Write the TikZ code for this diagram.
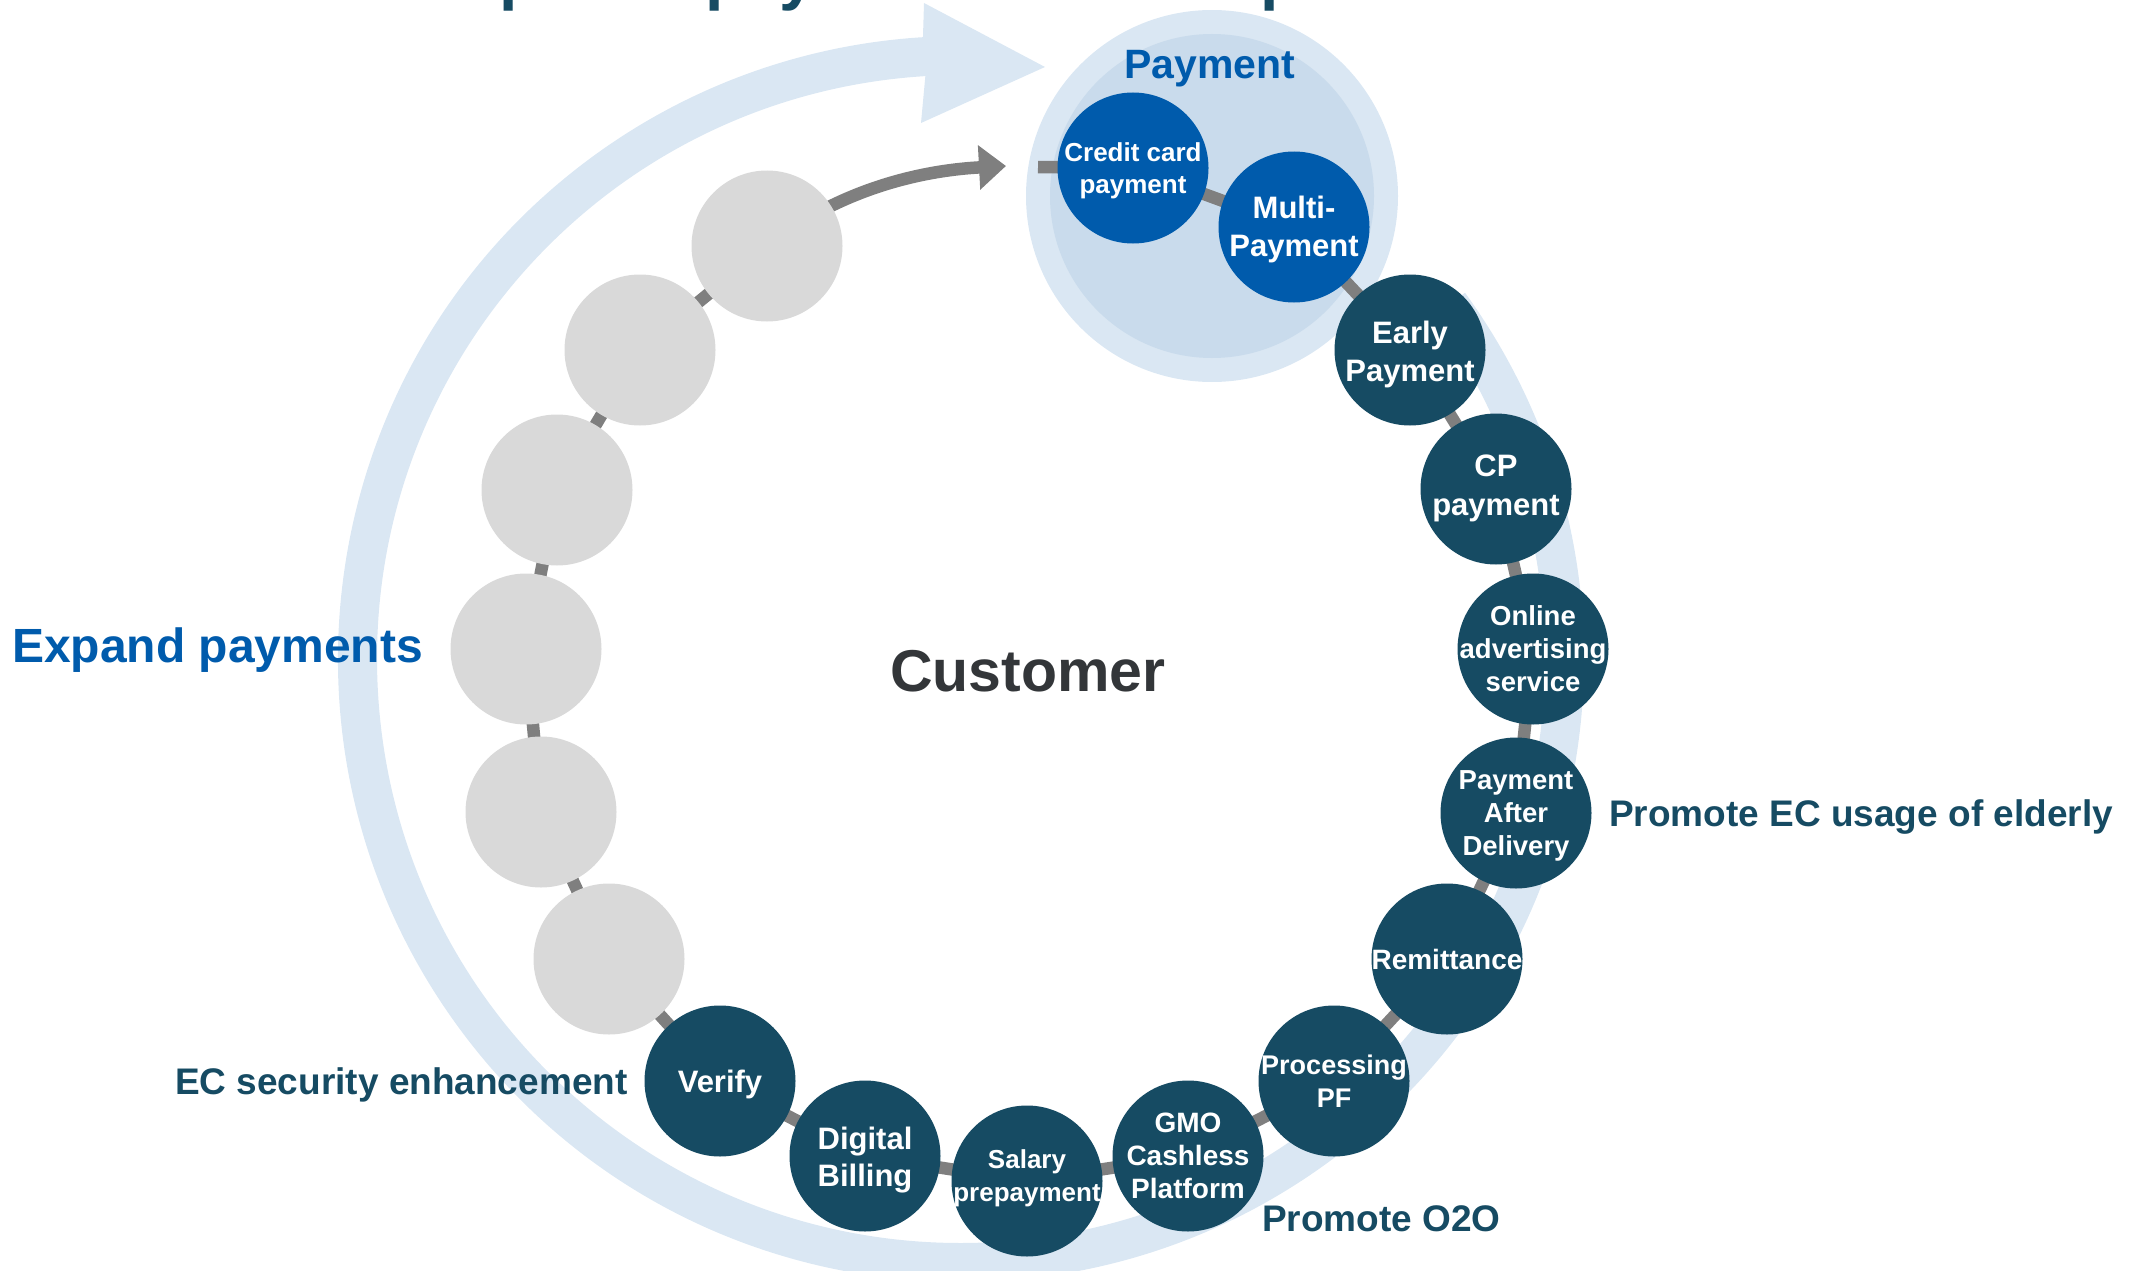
\documentclass[tikz,border=0pt]{standalone}
\usepackage{fontspec}
\setmainfont{Liberation Sans}
\usetikzlibrary{arrows.meta,backgrounds}
\definecolor{nodeteal}{HTML}{164B63}
\definecolor{nodeblue}{HTML}{005BAC}
\definecolor{greyc}{HTML}{D9D9D9}
\definecolor{chainc}{HTML}{7F7F7F}
\definecolor{bandc}{HTML}{DAE7F3}
\definecolor{payin}{HTML}{C9DBEC}
\definecolor{custc}{HTML}{333639}
\newcommand\fsz[2]{\fontsize{#1}{#2}\selectfont}
\begin{document}
\begin{tikzpicture}[x=1pt,y=-1pt,
  svc/.style={circle, fill=nodeteal, minimum size=151pt, inner sep=0pt},
  paysvc/.style={svc, fill=nodeblue},
  blank/.style={circle, fill=greyc, minimum size=151pt, inner sep=0pt},
  svctext/.style={text=white, align=center, inner sep=0pt},
  chain/.style={draw=chainc, line width=12.5pt},
  lbl/.style={inner sep=0pt, font=\bfseries\fsz{37}{44}, text=nodeteal},
  titlefrag/.style={inner sep=0pt, anchor=base west, font=\bfseries\fsz{66}{70}, text=nodeteal},
]
\useasboundingbox (0,0) rectangle (2129,1271);

% cut-off title fragments (the reference shows only their descenders)
\begin{scope}
\clip (0,0) rectangle (2129,1271);
\node[titlefrag] (tf1) at (499,-2) {p};
\node[titlefrag] (tf2) at (705,-2) {p};
\node[titlefrag] (tf3) at (779,-2) {y};
\node[titlefrag] (tf4) at (1260,-2) {p};
\end{scope}

% service nodes
\node[paysvc] (credit) at (1133,168) {};
\node[paysvc] (multi) at (1294,227) {};
\node[svc] (early) at (1410,350) {};
\node[svc] (cp) at (1496,489) {};
\node[svc] (online) at (1533,649) {};
\node[svc] (pad) at (1516,813) {};
\node[svc] (remit) at (1447,959) {};
\node[svc] (proc) at (1334,1081) {};
\node[svc] (gmo) at (1188,1156) {};
\node[svc] (salary) at (1027,1181) {};
\node[svc] (digital) at (865,1156) {};
\node[svc] (verify) at (720,1081) {};
\node[blank] (g13) at (609,959) {};
\node[blank] (g14) at (541,812) {};
\node[blank] (g15) at (526,649) {};
\node[blank] (g16) at (557,490) {};
\node[blank] (g17) at (640,350) {};
\node[blank] (g18) at (767,246) {};

% service texts
\node[svctext, font=\bfseries\fsz{26}{32}, yshift=-3pt] (credit-t) at (credit) {Credit card\\payment};
\node[svctext, font=\bfseries\fsz{31}{38}, yshift=-2pt] (multi-t) at (multi) {Multi-\\Payment};
\node[svctext, font=\bfseries\fsz{31}{38}, yshift=-4pt] (early-t) at (early) {Early\\Payment};
\node[svctext, font=\bfseries\fsz{31}{39}, yshift=1pt] (cp-t) at (cp) {CP\\payment};
\node[svctext, font=\bfseries\fsz{27.5}{33}] (online-t) at (online) {Online\\advertising\\service};
\node[svctext, font=\bfseries\fsz{27.5}{33}, yshift=-3pt] (pad-t) at (pad) {Payment\\After\\Delivery};
\node[svctext, font=\bfseries\fsz{28}{33}] (remit-t) at (remit) {Remittance};
\node[svctext, font=\bfseries\fsz{27}{33}] (proc-t) at (proc) {Processing\\PF};
\node[svctext, font=\bfseries\fsz{28}{33}] (gmo-t) at (gmo) {GMO\\Cashless\\Platform};
\node[svctext, font=\bfseries\fsz{26}{33}, yshift=3pt] (salary-t) at (salary) {Salary\\prepayment};
\node[svctext, font=\bfseries\fsz{31}{37}, yshift=-4pt] (digital-t) at (digital) {Digital\\Billing};
\node[svctext, font=\bfseries\fsz{31}{37}, yshift=-3pt] (verify-t) at (verify) {Verify};

% labels
\node[inner sep=0pt, anchor=base, font=\bfseries\fsz{41}{48}, text=nodeblue] (paylbl) at (1210,79) {Payment};
\node[inner sep=0pt, anchor=base, font=\bfseries\fsz{59}{66}, text=custc] (cust) at (1028,691) {Customer};
\node[inner sep=0pt, anchor=base west, font=\bfseries\fsz{48}{56}, text=nodeblue] (expand) at (12,662) {Expand payments};
\node[lbl, anchor=base west] (ecsec) at (175,1094) {EC security enhancement};
\node[lbl, anchor=base west] (elderly) at (1609,826) {Promote EC usage of elderly};
\node[lbl, anchor=base west] (o2o) at (1262,1231) {Promote O2O};

\coordinate (stub) at (1038,167);
\coordinate (gtip) at (1006,166);

\begin{scope}[on background layer]
  % big circulating arrow
  \fill[bandc, shift={(961,659)}] (-36:623) arc[start angle=-36, end angle=266.5, radius=623]
     -- (-37,-656) -- (84,-592) -- (-40,-536) -- (266.5:584)
     arc[start angle=266.5, end angle=-36, radius=584] -- cycle;
  % payment area
  \node[circle, fill=bandc, minimum size=372pt, inner sep=0pt] (payouter) at (1212,196) {};
  \node[circle, fill=payin, minimum size=324pt, inner sep=0pt] (payinner) at (1212,196) {};
  % chain connector
  \draw[chain] (g18.center) -- (g17.center) -- (g16.center) -- (g15.center) -- (g14.center)
     -- (g13.center) -- (verify.center) -- (digital.center) -- (salary.center) -- (gmo.center)
     -- (proc.center) -- (remit.center) -- (pad.center) -- (online.center) -- (cp.center)
     -- (early.center) -- (multi.center) -- (credit.center) -- (stub);
  % grey arrow
  \draw[chain, -{Triangle[length=27pt,width=43pt]}] (g18.center) .. controls (845,185) and (930,170) .. (gtip);
\end{scope}
\end{tikzpicture}
\end{document}
